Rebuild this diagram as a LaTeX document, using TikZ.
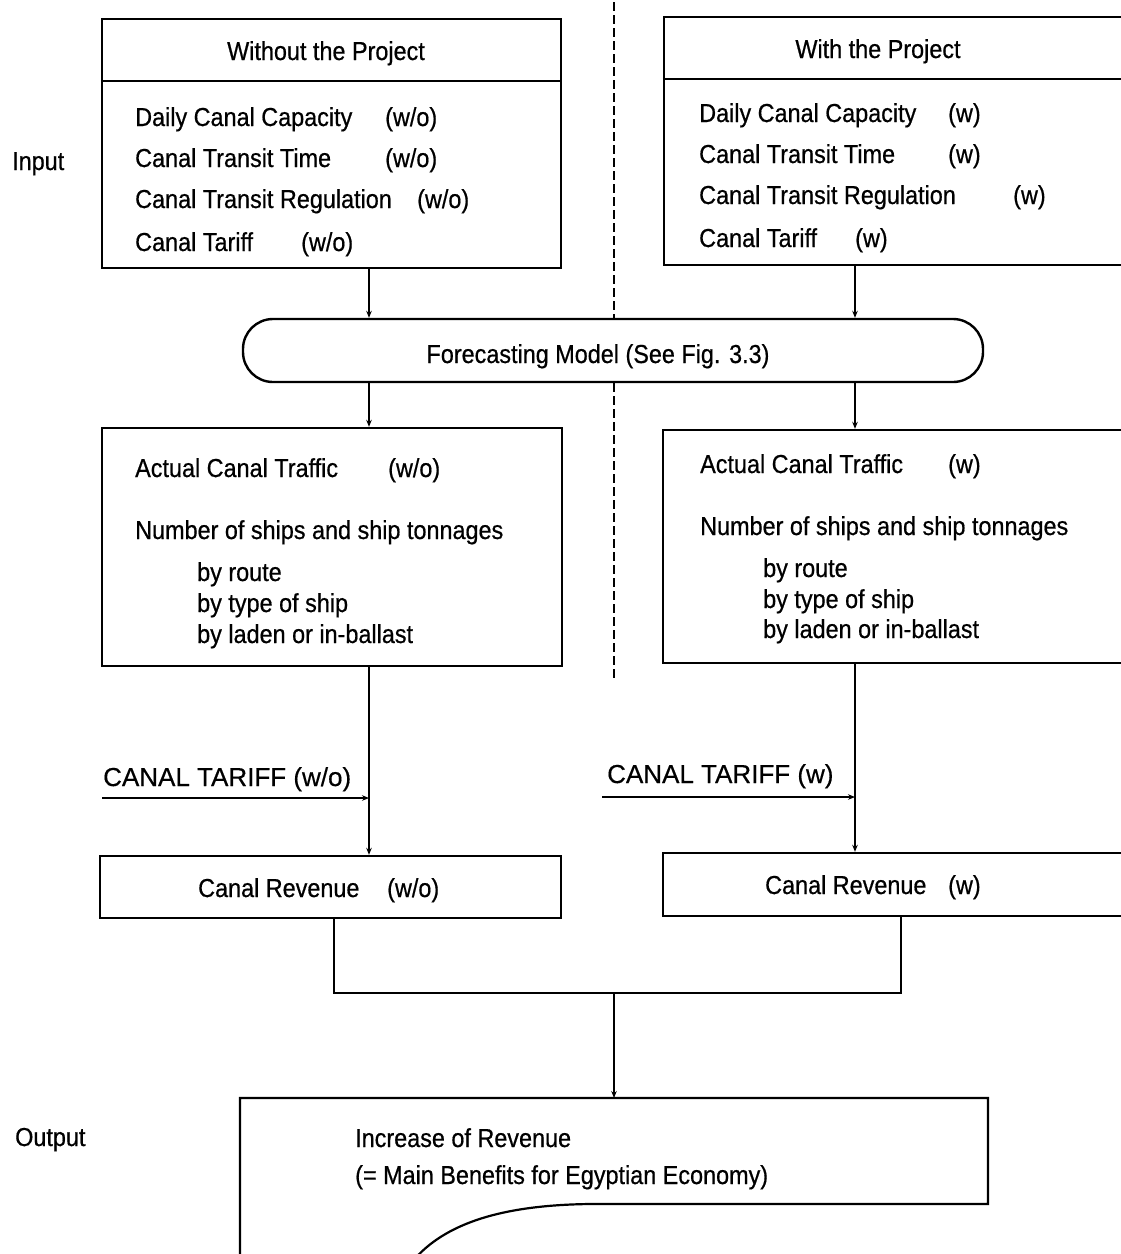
\documentclass[tikz,border=0pt]{standalone}
\usepackage{fontspec}
\setmainfont{Liberation Sans}[FakeStretch=0.9,FakeBold=0.6]
\usetikzlibrary{arrows.meta,calc}
\newcommand{\bodyfont}{\fontsize{26pt}{30pt}\selectfont}
\newfontfamily\capsfont{Liberation Sans}[FakeBold=0.5]
\newcommand{\tarifffont}{\capsfont\fontsize{26pt}{30pt}\selectfont}
\begin{document}
\begin{tikzpicture}[x={(1pt,0pt)}, y={(0pt,-1pt)},
  box/.style={draw, line width=2.4pt, inner sep=0pt},
  txt/.style={anchor=base west, inner sep=0pt, font=\bodyfont},
  ctr/.style={anchor=base, inner sep=0pt, font=\bodyfont},
  link/.style={line width=2.2pt},
  arr/.style={line width=2.2pt, -{Stealth[length=7pt,width=5.5pt]}},
  divider/.style={line width=2.8pt, dash pattern=on 9pt off 4pt}]
\useasboundingbox (0,0) rectangle (1121,1254);

% column positions of the two flows
\coordinate (cL) at (369,0);
\coordinate (cR) at (855,0);

% ---- input boxes
\node[box, minimum width=459pt, minimum height=249pt] (inL) at (331.5,143.5) {};
\node[box, minimum width=471pt, minimum height=248pt] (inR) at (899.5,141) {};
\draw[link] ($(inL.north west)+(0,63)$) -- ($(inL.north east)+(0,63)$);
\draw[link] ($(inR.north west)+(0,63)$) -- ($(inR.north east)+(0,63)$);

\node[ctr] (hdL) at (326,60) {Without the Project};
\node[txt] (iL1) at (135,126) {Daily Canal Capacity};
\node[txt] (iL1w) at (385,126) {(w/o)};
\node[txt] (iL2) at (135,167) {Canal Transit Time};
\node[txt] (iL2w) at (385,167) {(w/o)};
\node[txt] (iL3) at (135,208) {Canal Transit Regulation};
\node[txt] (iL3w) at (417,208) {(w/o)};
\node[txt] (iL4) at (135,251) {Canal Tariff};
\node[txt] (iL4w) at (301,251) {(w/o)};

\node[ctr] (hdR) at (878,58) {With the Project};
\node[txt] (iR1) at (699,122) {Daily Canal Capacity};
\node[txt] (iR1w) at (948,122) {(w)};
\node[txt] (iR2) at (699,163) {Canal Transit Time};
\node[txt] (iR2w) at (948,163) {(w)};
\node[txt] (iR3) at (699,204) {Canal Transit Regulation};
\node[txt] (iR3w) at (1013,204) {(w)};
\node[txt] (iR4) at (699,247) {Canal Tariff};
\node[txt] (iR4w) at (855,247) {(w)};

\node[txt] (lblIn) at (12,170) {Input};

% ---- forecasting model
\node[box, rounded corners=30pt, minimum width=740pt, minimum height=63pt] (fc) at (613,350.5) {};
\node[ctr] (fcT) at (598,363) {Forecasting Model (See Fig. 3.3)};

% ---- dashed separator
\coordinate (dTop) at (614,2);
\coordinate (dBot) at (614,680);
\draw[divider] (dTop) -- (dTop |- fc.north);
\draw[divider] (dTop |- fc.south) -- (dBot);

% ---- traffic boxes
\node[box, minimum width=460pt, minimum height=238pt] (midL) at (332,547) {};
\node[box, minimum width=472pt, minimum height=233pt] (midR) at (899,546.5) {};

\node[txt] (tL1) at (135,477) {Actual Canal Traffic};
\node[txt] (tL1w) at (388,477) {(w/o)};
\node[txt] (tL2) at (135,539) {Number of ships and ship tonnages};
\node[txt] (tL3) at (197,581) {by route};
\node[txt] (tL4) at (197,612) {by type of ship};
\node[txt] (tL5) at (197,643) {by laden or in-ballast};

\node[txt] (tR1) at (700,473) {Actual Canal Traffic};
\node[txt] (tR1w) at (948,473) {(w)};
\node[txt] (tR2) at (700,535) {Number of ships and ship tonnages};
\node[txt] (tR3) at (763,577) {by route};
\node[txt] (tR4) at (763,608) {by type of ship};
\node[txt] (tR5) at (763,638) {by laden or in-ballast};

% ---- revenue boxes
\node[box, minimum width=461pt, minimum height=62pt] (revL) at (330.5,887) {};
\node[box, minimum width=472pt, minimum height=63pt] (revR) at (899,884.5) {};
\node[txt] (rL) at (198,897) {Canal Revenue};
\node[txt] (rLw) at (387,897) {(w/o)};
\node[txt] (rR) at (765,894) {Canal Revenue};
\node[txt] (rRw) at (948,894) {(w)};

% ---- tariff inputs
\node[anchor=base west, inner sep=0pt, font=\tarifffont] (tarL) at (103,786) {CANAL TARIFF (w/o)};
\node[anchor=base west, inner sep=0pt, font=\tarifffont] (tarR) at (607,783) {CANAL TARIFF (w)};
\coordinate (tarLs) at (102,798);
\coordinate (tarRs) at (602,797);

% ---- output box
\coordinate (oSW) at (240,1262);
\coordinate (oNW) at (240,1098);
\coordinate (oNE) at (988,1098);
\coordinate (oSE) at (988,1204);
\coordinate (oCv) at (590,1204);
\coordinate (oEnd) at (412,1262);
\coordinate (outTop) at (614,1098);
\draw[link] (oSW) -- (oNW) -- (oNE) -- (oSE) -- (oCv)
  .. controls (505,1205) and (445,1222) .. (oEnd);
\node[txt] (oT1) at (355,1147) {Increase of Revenue};
\node[txt] (oT2) at (355,1184) {(= Main Benefits for Egyptian Economy)};
\node[txt] (lblOut) at (15,1146) {Output};

% ---- connectors
\draw[arr] (inL.south -| cL) -- (fc.north -| cL);
\draw[arr] (inR.south -| cR) -- (fc.north -| cR);
\draw[arr] (fc.south -| cL) -- (midL.north -| cL);
\draw[arr] (fc.south -| cR) -- (midR.north -| cR);
\draw[arr] (midL.south -| cL) -- (revL.north -| cL);
\draw[arr] (midR.south -| cR) -- (revR.north -| cR);
\draw[arr] (tarLs) -- (tarLs -| cL);
\draw[arr] (tarRs) -- (tarRs -| cR);

\coordinate (mL) at (334,993);
\coordinate (mR) at (901,993);
\draw[link] (revL.south -| mL) -- (mL) -- (mR) -- (revR.south -| mR);
\draw[arr] (mL -| outTop) -- (outTop);
\end{tikzpicture}
\end{document}
